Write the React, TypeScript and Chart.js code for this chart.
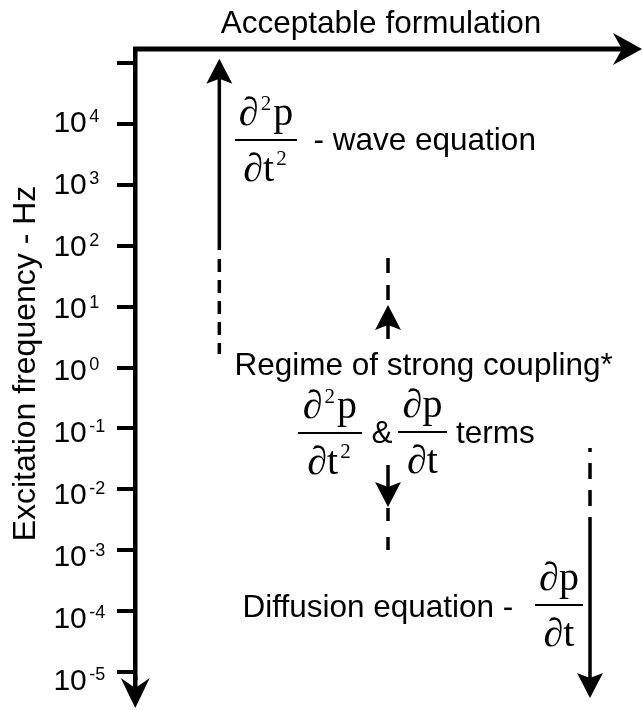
import React, { useEffect, useRef } from 'react';
import { Chart, registerables } from 'chart.js';

Chart.register(...registerables);

const SANS = "'Liberation Sans', Arial, sans-serif";
const SERIF = "'Liberation Serif', 'Times New Roman', serif";

// ---- axis ----
const tickValues = [1e-5, 1e-4, 1e-3, 1e-2, 1e-1, 1, 1e1, 1e2, 1e3, 1e4, 1e5];
const tickExponents = ['-5', '-4', '-3', '-2', '-1', '0', '1', '2', '3', '4'];
const axisTitle = 'Excitation frequency - Hz';
const topTitle = 'Acceptable formulation';
const yMin = 7.97e-6;
const yMax = 1.698e5;

// ---- arrow positions across the plot (0..100) ----
const waveX = 16.7;
const couplingX = 50.1;
const diffusionX = 90.1;

// ---- frequencies (Hz) along each arrow ----
const waveSolid = [85, 5.5e4];
const waveDashed = [60.5, 1.67];
const couplingUpDashed = [62.8, 12.8];
const couplingUpSolid = [2.94, 4.99];
const couplingDownSolid = [0.0251, 0.0109];
const couplingDownDashed = [0.00493, 0.000933];
const diffusionDashed = [0.0477, 0.00199];
const diffusionSolid = [0.00199, 7.97e-6];

type Run = [string, number];

function drawRuns(ctx: CanvasRenderingContext2D, runs: Run[], x: number, base: number, size: number, supSize: number, supRise: number, family: string, align: string) {
  const gap = 2;
  let total = 0;
  const widths = runs.map(([t, s]) => {
    ctx.font = `${s ? supSize : size}px ${family}`;
    const w = ctx.measureText(t).width + (s ? gap * 2 : 0);
    total += w;
    return w;
  });
  let cx = align === 'center' ? x - total / 2 : x;
  runs.forEach(([t, s], i) => {
    ctx.font = `${s ? supSize : size}px ${family}`;
    ctx.fillText(t, s ? cx + gap : cx, s ? base - supRise : base);
    cx += widths[i];
  });
}

function drawFraction(ctx: CanvasRenderingContext2D, cx: number, barY: number, barW: number, num: Run[], den: Run[]) {
  ctx.fillRect(cx - barW / 2, barY - 1, barW, 2);
  drawRuns(ctx, num, cx, barY - 15, 40, 21, 15, SERIF, 'center');
  drawRuns(ctx, den, cx, barY + 41, 40, 21, 16, SERIF, 'center');
}

function drawHead(ctx: CanvasRenderingContext2D, tx: number, ty: number, dx: number, dy: number, L: number, W: number, n: number) {
  const px = -dy, py = dx;
  ctx.beginPath();
  ctx.moveTo(tx, ty);
  ctx.lineTo(tx - L * dx + W * px, ty - L * dy + W * py);
  ctx.lineTo(tx - (L - n) * dx, ty - (L - n) * dy);
  ctx.lineTo(tx - L * dx - W * px, ty - L * dy - W * py);
  ctx.closePath();
  ctx.fill();
}

const arrowPlugin = {
  id: 'arrowHeads',
  afterDatasetsDraw(chart: any) {
    const ctx = chart.ctx as CanvasRenderingContext2D;
    ctx.save();
    ctx.fillStyle = '#000';
    chart.data.datasets.forEach((ds: any, i: number) => {
      if (!ds.arrow) return;
      const pts = chart.getDatasetMeta(i).data;
      const a = pts[pts.length - 2], b = pts[pts.length - 1];
      let dx = b.x - a.x, dy = b.y - a.y;
      const len = Math.hypot(dx, dy) || 1;
      dx /= len; dy /= len;
      const L = 25, W = 13, n = 5;
      drawHead(ctx, b.x + dx * (L - n), b.y + dy * (L - n), dx, dy, L, W, n);
    });
    ctx.restore();
  },
};

const textPlugin = {
  id: 'texts',
  afterDraw(chart: any) {
    const ctx = chart.ctx as CanvasRenderingContext2D;
    const xs = chart.scales.x, ys = chart.scales.y;
    const area = chart.chartArea;
    const X = (u: number) => xs.getPixelForValue(u);
    const Y = (e: number) => ys.getPixelForValue(Math.pow(10, e));
    ctx.save();
    ctx.fillStyle = '#000';
    ctx.strokeStyle = '#000';
    ctx.textBaseline = 'alphabetic';
    ctx.textAlign = 'left';

    // axis arrows
    const axisX = area.left + 0.25;
    ctx.lineWidth = 5;
    ctx.beginPath();
    ctx.moveTo(area.left - 2, area.top);
    ctx.lineTo(chart.width - 20, area.top);
    ctx.stroke();
    drawHead(ctx, chart.width, area.top, 1, 0, 29, 16, 9);
    ctx.lineWidth = 4.5;
    ctx.beginPath();
    ctx.moveTo(axisX, area.bottom - 2);
    ctx.lineTo(axisX, area.bottom + 12);
    ctx.stroke();
    drawHead(ctx, axisX, area.bottom + 30, 0, 1, 30, 14.5, 10);

    // tick labels 10^n
    tickExponents.forEach((e, i) => {
      const y = ys.getPixelForValue(tickValues[i]);
      const base = y + 12.3 - 1.13 * Number(e);
      ctx.font = `30px ${SANS}`;
      ctx.fillText('10', 53.4, base);
      const w = ctx.measureText('10').width;
      ctx.font = `18px ${SANS}`;
      ctx.fillText(e, 53.4 + w + 2.4, base - 9.5);
    });

    // titles and annotations
    ctx.font = `31.5px ${SANS}`;
    ctx.textAlign = 'center';
    ctx.fillText(topTitle, X(48.71), Y(5.493));
    ctx.textAlign = 'left';

    drawFraction(ctx, X(25.94), Y(3.736), 62, [['∂', 0], ['2', 1], ['p', 0]], [['∂t', 0], ['2', 1]]);
    ctx.font = `31.5px ${SANS}`;
    ctx.fillText('- wave equation', X(35.35), Y(3.571));

    ctx.fillText('Regime of strong coupling*', X(19.7), Y(-0.123));
    drawFraction(ctx, X(38.61), Y(-1.0755), 64, [['∂', 0], ['2', 1], ['p', 0]], [['∂t', 0], ['2', 1]]);
    ctx.font = `31.5px ${SANS}`;
    ctx.fillText('&', X(46.83), Y(-1.24));
    drawFraction(ctx, X(56.93), Y(-1.059), 49, [['∂p', 0]], [['∂t', 0]]);
    ctx.font = `31.5px ${SANS}`;
    ctx.fillText('terms', X(63.56), Y(-1.24));

    ctx.fillText('Diffusion equation -', X(21.29), Y(-4.097));
    drawFraction(ctx, X(83.96), Y(-3.9), 48, [['∂p', 0]], [['∂t', 0]]);
    ctx.restore();
  },
};

function line(x: number, ys: number[], dash: number[], offset: number, arrow: boolean) {
  return {
    data: ys.map((y) => ({ x, y })),
    showLine: true,
    borderColor: '#000',
    backgroundColor: '#000',
    borderWidth: 3.5,
    borderDash: dash,
    borderDashOffset: offset,
    borderCapStyle: 'butt',
    pointRadius: 0,
    pointHoverRadius: 0,
    clip: false,
    arrow,
  };
}

export default function App() {
  const ref = useRef<HTMLCanvasElement>(null);
  useEffect(() => {
    if (!ref.current) return;
    const datasets: any[] = [
      line(waveX, waveSolid, [], 0, true),
      line(waveX, waveDashed, [13, 8], 0, false),
      line(couplingX, couplingUpDashed, [15, 12], 0, false),
      line(couplingX, couplingUpSolid, [], 0, true),
      line(couplingX, couplingDownSolid, [], 0, true),
      line(couplingX, couplingDownDashed, [13, 16], 0, false),
      line(diffusionX, diffusionDashed, [16, 11], 12, false),
      line(diffusionX, diffusionSolid, [], 0, true),
    ];
    const chart = new Chart(ref.current, {
      type: 'scatter',
      data: { datasets },
      options: {
        animation: false,
        responsive: true,
        maintainAspectRatio: false,
        events: [],
        layout: { padding: { top: 49, right: 2, bottom: 32, left: 0 } },
        plugins: { legend: { display: false }, tooltip: { enabled: false } },
        scales: {
          x: { type: 'linear', min: 0, max: 100, display: false },
          y: {
            type: 'logarithmic',
            position: 'left',
            min: yMin,
            max: yMax,
            bounds: 'data',
            afterBuildTicks: (s: any) => {
              s.ticks = tickValues.map((v) => ({ value: v }));
            },
            afterFit: (s: any) => {
              s.width = 135;
            },
            grid: {
              drawOnChartArea: false,
              drawTicks: true,
              tickLength: 18,
              lineWidth: 4,
              color: '#000',
              tickWidth: 4,
              tickColor: '#000',
            },
            border: { display: true, width: 4.5, color: '#000' },
            ticks: { display: false },
            title: {
              display: true,
              text: axisTitle,
              color: '#000',
              font: { size: 32, family: SANS },
              padding: { top: 7, bottom: 0 },
            },
          },
        },
      } as any,
      plugins: [arrowPlugin, textPlugin],
    });
    return () => chart.destroy();
  }, []);
  return (
    <div style={{ position: 'absolute', left: 0, top: 0, width: 642, height: 710 }}>
      <canvas ref={ref} />
    </div>
  );
}
